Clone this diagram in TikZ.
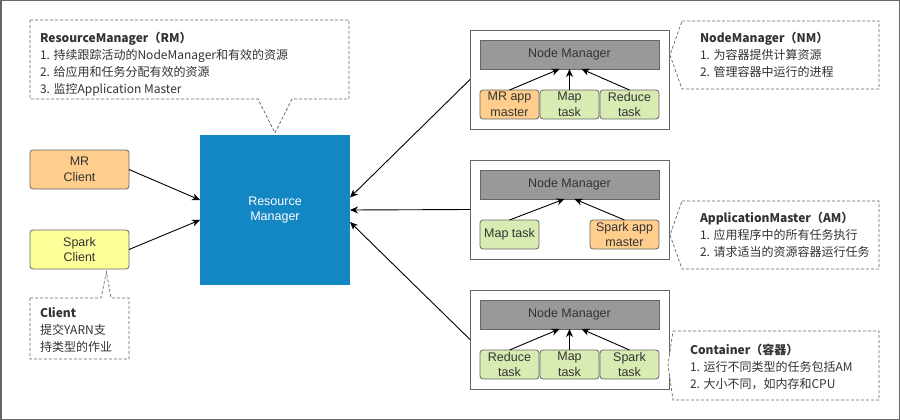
\documentclass[tikz,border=0pt]{standalone}
\usepackage{fontspec}
\setmainfont{Liberation Sans}
\newfontfamily\cjk{Noto Sans CJK SC}
\usetikzlibrary{arrows.meta}
\definecolor{txt}{HTML}{333333}
\definecolor{edge}{HTML}{666666}
\definecolor{orangef}{HTML}{FFCE8C}
\definecolor{greenf}{HTML}{D7EBB3}
\definecolor{yellowf}{HTML}{FFFF99}
\definecolor{bluef}{HTML}{1287C3}
\definecolor{grayf}{HTML}{999999}
\begin{document}
\begin{tikzpicture}[x=1pt,y=-1pt,
  every node/.style={inner sep=0pt, outer sep=0pt},
  tbox/.style={draw=edge, line width=0.8pt, rounded corners=3pt, anchor=north west,
    align=center, text=txt, font=\fontsize{12.5}{15.5}\selectfont},
  nmbar/.style={draw=edge, line width=0.8pt, fill=grayf, anchor=north west,
    minimum width=179pt, minimum height=29pt, text=txt, font=\fontsize{12.5}{15}\selectfont},
  nmframe/.style={draw=edge, line width=0.8pt, fill=white, anchor=north west,
    minimum width=199pt, minimum height=99pt},
  callout/.style={draw=edge, dashed, dash pattern=on 3pt off 2pt, line width=0.7pt, fill=white},
  ctext/.style={anchor=base west, text=txt, font=\cjk\fontsize{12}{17}\selectfont},
  arr/.style={-{Stealth[length=8pt,width=7pt,inset=2.5pt]}, line width=0.9pt, black},
]
\useasboundingbox (0,0) rectangle (900,420);
% frame
\draw[edge, line width=1.5pt, fill=white] (0.75,0.75) rectangle (899.25,419.25);

% Resource manager
\node[fill=bluef, anchor=north west, minimum width=150pt, minimum height=150pt,
  text=white, align=center, font=\fontsize{12.5}{15.5}\selectfont] (rm) at (200,135) {Resource\\Manager};

% clients
\node[tbox, fill=orangef, minimum width=99pt, minimum height=39pt] (mr) at (30,150) {MR\\Client};
\node[tbox, fill=yellowf, minimum width=99pt, minimum height=39pt] (sp) at (30,230) {Spark\\Client};

% RM callout
\draw[callout] (30,20) -- (349,20) -- (349,99) -- (292,99) -- (275,133) -- (258,99) -- (30,99) -- cycle;
\node[ctext] (rmt1) at (40,42.5) {\textbf{ResourceManager（RM）}};
\node[ctext] (rmt2) at (40,59.5) {1. 持续跟踪活动的NodeManager和有效的资源};
\node[ctext] (rmt3) at (40,76.5) {2. 给应用和任务分配有效的资源};
\node[ctext] (rmt4) at (40,93.5) {3. 监控Application Master};

% Client callout
\draw[callout] (30,298) -- (101,298) -- (106.5,272) -- (111,298) -- (129,298) -- (129,359) -- (30,359) -- cycle;
\node[ctext] (clt1) at (40,317.5) {\textbf{Client}};
\node[ctext] (clt2) at (40,334.5) {提交YARN支};
\node[ctext] (clt3) at (40,351.5) {持类型的作业};

% NM 1
\node[nmframe] (f1) at (470,30) {};
\node[nmbar] (nm1) at (480,40) {Node Manager};
\node[tbox, fill=orangef, minimum width=59pt, minimum height=29pt] (a1) at (480,90) {MR app\\master};
\node[tbox, fill=greenf, minimum width=59pt, minimum height=29pt] (b1) at (540,90) {Map\\task};
\node[tbox, fill=greenf, minimum width=59pt, minimum height=29pt] (c1) at (600,90) {Reduce\\task};
\draw[arr] (a1.north) -- ([xshift=-10pt]nm1.south);
\draw[arr] (b1.north) -- (nm1.south);
\draw[arr] (c1.north) -- ([xshift=12pt]nm1.south);

% NM 2
\node[nmframe] (f2) at (470,160) {};
\node[nmbar] (nm2) at (480,170) {Node Manager};
\node[tbox, fill=greenf, minimum width=59pt, minimum height=29pt] (a2) at (480,220) {Map task};
\node[tbox, fill=orangef, minimum width=69pt, minimum height=29pt] (b2) at (590,220) {Spark app\\master};
\draw[arr] (a2.north) -- ([xshift=-5pt]nm2.south);
\draw[arr] (b2.north) -- ([xshift=5pt]nm2.south);

% NM 3
\node[nmframe] (f3) at (470,290) {};
\node[nmbar] (nm3) at (480,300) {Node Manager};
\node[tbox, fill=greenf, minimum width=59pt, minimum height=29pt] (a3) at (480,350) {Reduce\\task};
\node[tbox, fill=greenf, minimum width=59pt, minimum height=29pt] (b3) at (540,350) {Map\\task};
\node[tbox, fill=greenf, minimum width=59pt, minimum height=29pt] (c3) at (600,350) {Spark\\task};
\draw[arr] (a3.north) -- ([xshift=-10pt]nm3.south);
\draw[arr] (b3.north) -- (nm3.south);
\draw[arr] (c3.north) -- ([xshift=12pt]nm3.south);

% connectors to RM
\draw[arr] (mr.east) -- ([yshift=10pt]rm.west);
\draw[arr] (sp.east) -- ([yshift=-10pt]rm.west);
\draw[arr] (f1.west) -- ([yshift=12.5pt]rm.east);
\draw[arr] (f2.west) -- (rm.east);
\draw[arr] (f3.west) -- ([yshift=-12pt]rm.east);

% NM callout
\draw[callout] (682,21) -- (879,21) -- (879,89) -- (682,89) -- (670,55) -- cycle;
\node[ctext] (nmt1) at (700,42.5) {\textbf{NodeManager（NM）}};
\node[ctext] (nmt2) at (700,59.5) {1. 为容器提供计算资源};
\node[ctext] (nmt3) at (700,76.5) {2. 管理容器中运行的进程};

% AM callout
\draw[callout] (682,201) -- (879,201) -- (879,269) -- (682,269) -- (670,235) -- cycle;
\node[ctext] (amt1) at (700,222.5) {\textbf{ApplicationMaster（AM）}};
\node[ctext] (amt2) at (700,239.5) {1. 应用程序中的所有任务执行};
\node[ctext] (amt3) at (700,256.5) {2. 请求适当的资源容器运行任务};

% Container callout
\draw[callout] (673,331) -- (879,331) -- (879,400) -- (673,400) -- (668,365) -- cycle;
\node[ctext] (ctt1) at (690,354.5) {\textbf{Container（容器）}};
\node[ctext] (ctt2) at (690,371.5) {1. 运行不同类型的任务包括AM};
\node[ctext] (ctt3) at (690,388.5) {2. 大小不同，如内存和CPU};
\end{tikzpicture}
\end{document}
